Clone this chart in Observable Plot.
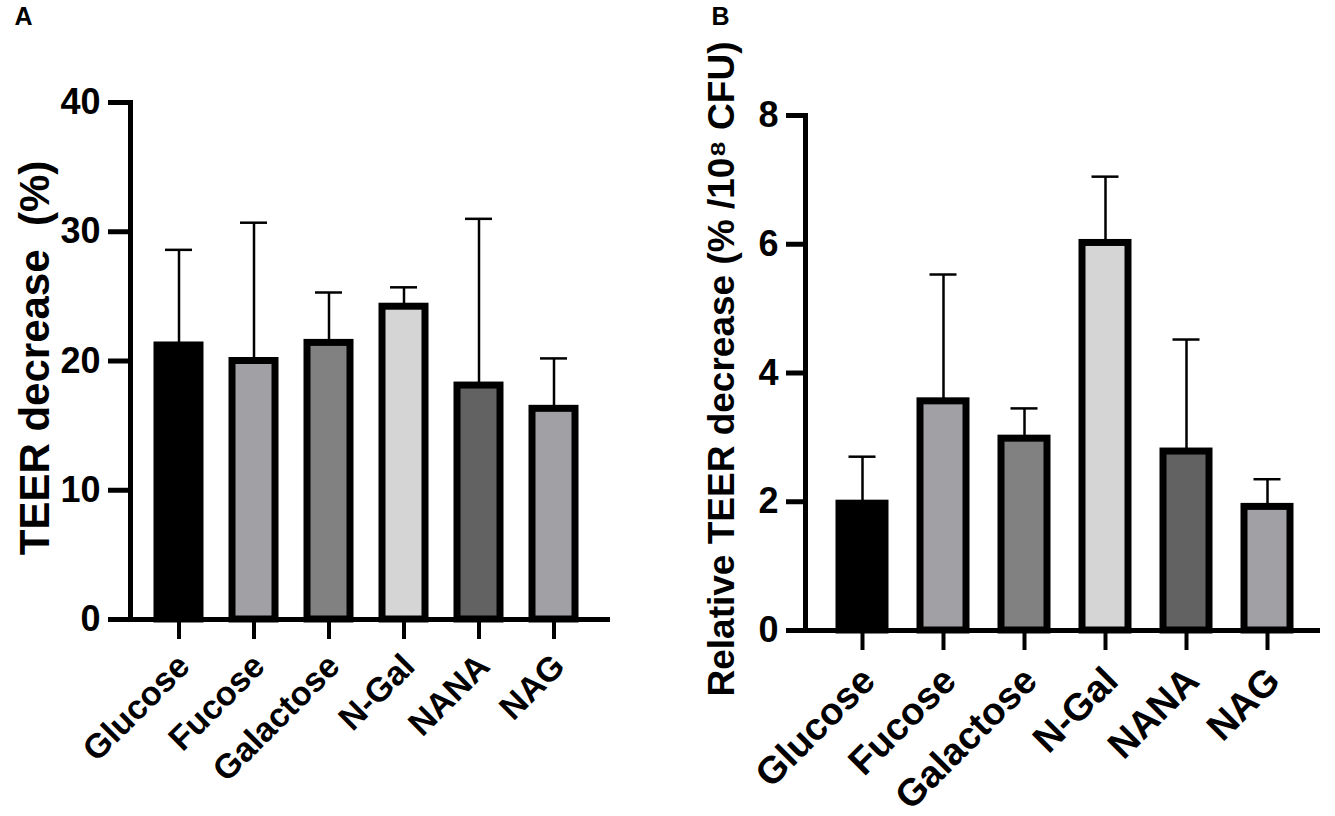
<!DOCTYPE html>
<html><head><meta charset="utf-8">
<script src="https://cdn.jsdelivr.net/npm/d3@7"></script>
<script src="https://cdn.jsdelivr.net/npm/@observablehq/plot@0.6"></script>
<style>
body{margin:0;background:#fff;}
#wrap{position:relative;width:1335px;height:816px;background:#fff;}
.panel{position:absolute;top:0;}
</style></head><body>
<div id="wrap">
 <div id="pa" class="panel" style="left:0"></div>
 <div id="pb" class="panel" style="left:665px"></div>
</div>
<script>
const categories = ["Glucose", "Fucose", "Galactose", "N-Gal", "NANA", "NAG"];
const fills = ["#000000", "#a1a1a5", "#818181", "#d5d5d5", "#626262", "#a1a1a5"];
const teerMean = [21.2, 20.0, 21.4, 24.2, 18.1, 16.3];
const teerSD = [7.4, 10.7, 3.9, 1.5, 12.9, 3.9];
const relMean = [1.97, 3.56, 2.98, 6.02, 2.78, 1.92];
const relSD = [0.73, 1.97, 0.47, 1.03, 1.74, 0.43];
const teerTicks = [0, 10, 20, 30, 40];
const relTicks = [0, 2, 4, 6, 8];
const labelA = "TEER decrease\u00a0 (%)";
const labelB = "Relative TEER decrease (% /10\u2078 CFU)";

function makePanel(o) {
  const data = categories.map((c, i) => ({cat: c, mean: o.mean[i], sd: o.sd[i], fill: fills[i]}));
  return Plot.plot({
    width: o.width, height: 816,
    marginLeft: o.ml, marginRight: o.mr, marginTop: o.mt, marginBottom: o.mb,
    style: {fontFamily: "'Liberation Sans', Arial, sans-serif", fontWeight: "bold", color: "black", background: "transparent", overflow: "visible"},
    x: {type: "band", domain: categories, paddingInner: o.pi, paddingOuter: o.po, align: o.align},
    y: {domain: o.domain},
    color: {type: "identity"},
    marks: [
      Plot.ruleX(data, {x: "cat", y1: "mean", y2: d => d.mean + d.sd, strokeWidth: 2.5}),
      Plot.tickY(data, {x: "cat", y: d => d.mean + d.sd, strokeWidth: 2.5, insetLeft: o.capInset, insetRight: o.capInset}),
      Plot.barY(data, {x: "cat", y: "mean", fill: "fill", stroke: "black", strokeWidth: 7}),
      Plot.frame({anchor: "left", strokeWidth: 5}),
      Plot.ruleY([0], {strokeWidth: 5}),
      Plot.axisY({ticks: o.ticks, tickSize: o.tickSizeY, tickPadding: 8, strokeWidth: 5, fontSize: 36, label: null}),
      Plot.axisX({tickSize: 20, strokeWidth: 4, tickFormat: () => "", label: null}),
      Plot.axisX({tickSize: 0, tickPadding: 24, tickRotate: -45, fontSize: o.xFont, dx: o.xdx, dy: o.xdy, label: null}),
      Plot.text([o.label], {frameAnchor: "left", rotate: -90, textAnchor: "middle", dx: o.labelDx, dy: o.labelDy, fontSize: o.labelFont, fontWeight: "bold"}),
      Plot.text([o.letter], {frameAnchor: "top-left", textAnchor: "middle", lineAnchor: "middle", dx: o.letterDx, dy: o.letterDy, fontSize: 25, fontWeight: "bold"})
    ]
  });
}

document.getElementById("pa").append(makePanel({
  width: 665, ml: 130, mr: 55, mt: 102, mb: 197,
  pi: 0.43, po: 0.38, align: 0.43, capInset: 8,
  domain: [0, 40], ticks: teerTicks, tickSizeY: 22,
  mean: teerMean, sd: teerSD, xFont: 34, xdx: 5, xdy: 17,
  label: labelA, labelDx: -95, labelDy: -3, labelFont: 42,
  letter: "A", letterDx: -107, letterDy: -86
}));
document.getElementById("pb").append(makePanel({
  width: 670, ml: 140, mr: 15, mt: 115, mb: 186,
  pi: 0.435, po: 0.38, align: 0.53, capInset: 9.5,
  domain: [0, 8], ticks: relTicks, tickSizeY: 19,
  mean: relMean, sd: relSD, xFont: 38, xdx: 6, xdy: 20,
  label: labelB, labelDx: -83, labelDy: -4, labelFont: 37,
  letter: "B", letterDx: -85, letterDy: -99
}));
</script>
</body></html>
